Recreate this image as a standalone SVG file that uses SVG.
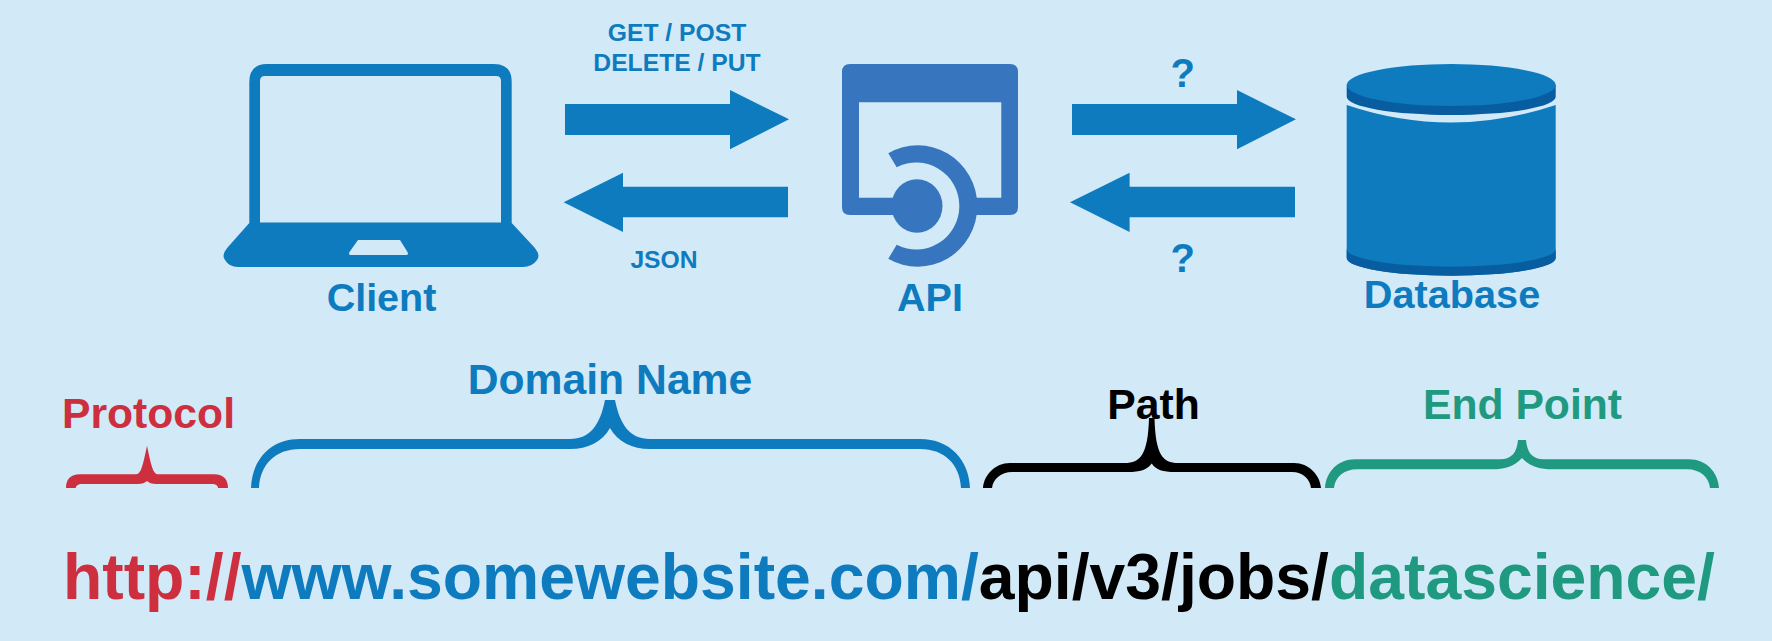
<svg xmlns="http://www.w3.org/2000/svg" width="1772" height="641" viewBox="0 0 1772 641">
<style>
text{font-family:"Liberation Sans",Arial,sans-serif;font-weight:700;text-anchor:middle}
.b{fill:#0e7bbf}.d{fill:#085ca0}.a{fill:#3776be}.r{fill:#ce2f3f}.g{fill:#1f9a80}.k{fill:#000}
.s{font-size:24.700px}.m{font-size:39.500px}.l{font-size:42.700px}
</style>
<rect width="1772" height="641" fill="#d2e9f8"/>
<g id="client">
<path class="b" fill-rule="evenodd" d="M267 64H494Q511.700 64 511.700 82V223L534 247Q541 255 537 260Q532 267 523 267H238Q229 267 225 260Q221 255 228 247L249.300 223V82Q249.300 64 267 64ZM265 76Q260 76 260 81V222.500H501V81Q501 76 496 76ZM358 240L349.500 252Q348 255 351 255H406Q409 255 407.500 252L400 240Z"/>
<text class="b m" x="381.500" y="310.700">Client</text>
</g>
<g id="api">
<path class="a" d="M850 64H1010Q1018 64 1018 72V207Q1018 215 1010 215H970V197.700H1001.300V102.300H859V197.700H895V215H850Q842 215 842 207V72Q842 64 850 64Z"/>
<ellipse class="a" cx="917" cy="206" rx="25.500" ry="26.700"/>
<path class="a" d="M888.300 153.300A59.500 60.700 0 1 1 888.300 258.700L896.700 244.700A43 43.500 0 1 0 896.700 167.300Z"/>
<text class="b m" x="930" y="310.700">API</text>
</g>
<g id="database">
<path class="b" d="M1346.700 105Q1451 140 1555.700 105V258A104.500 17.700 0 0 1 1346.700 258Z"/>
<path class="d" d="M1346.700 249A104.500 17.700 0 0 0 1555.700 249V258A104.500 17.700 0 0 1 1346.700 258Z"/>
<path class="d" d="M1346.700 85V96.700A104.500 18.300 0 0 0 1555.700 96.700V85Z"/>
<ellipse class="b" cx="1451.200" cy="85" rx="104.500" ry="21"/>
<text class="b" x="1452" y="307.700" style="font-size:39.700px">Database</text>
</g>
<g id="connectors">
<path class="b" d="M565 104H730V90L789 119.300L730 149.300V135H565Z"/>
<path class="b" d="M788 186.700H623V172.700L563.600 202.300L623 232V217.300H788Z"/>
<path class="b" d="M1072 104H1237V90L1296 119.300L1237 149.300V135H1072Z"/>
<path class="b" d="M1295 186.700H1129.600V172.700L1070 202.300L1129.600 232V217.300H1295Z"/>
</g>
<g id="connector-labels">
<text class="b s" x="677" y="40.700">GET / POST</text>
<text class="b s" x="677" y="70.700">DELETE / PUT</text>
<text class="b s" x="664" y="267.700">JSON</text>
<text class="b" x="1182.600" y="86.700" style="font-size:40px">?</text>
<text class="b" x="1182.600" y="271.700" style="font-size:40px">?</text>
</g>
<g id="protocol">
<text class="r l" x="148.500" y="427.700">Protocol</text>
<path class="r" d="M66 488C66 480 70 474.300 80 474.300H136C141 474.300 143 465 147 445.700C151 465 153 474.300 158 474.300H214C224 474.300 228 480 228 488H218C218 486 216 484 212 484H156C152 484 149 483 147 481C145 483 142 484 138 484H82C78 484 76 486 75.700 488Z"/>
</g>
<g id="domain">
<text class="b l" x="610" y="394.300">Domain Name</text>
<path class="b" d="M251 488C252 460 270 439 300 439H570C590 439 600 425 605 400H615C620 425 630 439 650 439H920C950 439 969 460 970 488H961C960 465 945 449 920 449H650C632 449 618 442 610 428C602 442 588 449 570 449H300C275 449 260 465 259 488Z"/>
</g>
<g id="path">
<path class="k" d="M983 488C984 475 995 463 1010 463H1125C1140 463 1148 455 1149 418H1154.500C1155.500 455 1163 463 1178 463H1294C1309 463 1320 475 1321 488H1311C1310 479 1303 472 1292 472H1175C1163 472 1156 470 1151.700 463.500C1147 470 1140 472 1128 472H1012C1001 472 993 479 992 488Z"/>
<text class="k l" x="1153.600" y="419.300">Path</text>
</g>
<g id="endpoint">
<text class="g l" x="1522.500" y="419">End Point</text>
<path class="g" d="M1325 488C1326 472 1338 459.300 1355 459.300H1500C1512 459.300 1517 452 1518 440H1526C1527 452 1532 459.300 1544 459.300H1689C1706 459.300 1718 472 1719 488H1710C1709 477 1700 469.300 1687 469.300H1552C1540 469.300 1530 467 1522 458C1514 467 1504 469.300 1492 469.300H1357C1344 469.300 1335 477 1334 488Z"/>
</g>
<g id="url">
<text style="font-size:64.300px;text-anchor:start" x="63" y="598.500"><tspan class="r">http://</tspan><tspan class="b">www.somewebsite.com/</tspan><tspan class="k">api/v3/jobs/</tspan><tspan class="g">datascience/</tspan></text>
</g>
</svg>
